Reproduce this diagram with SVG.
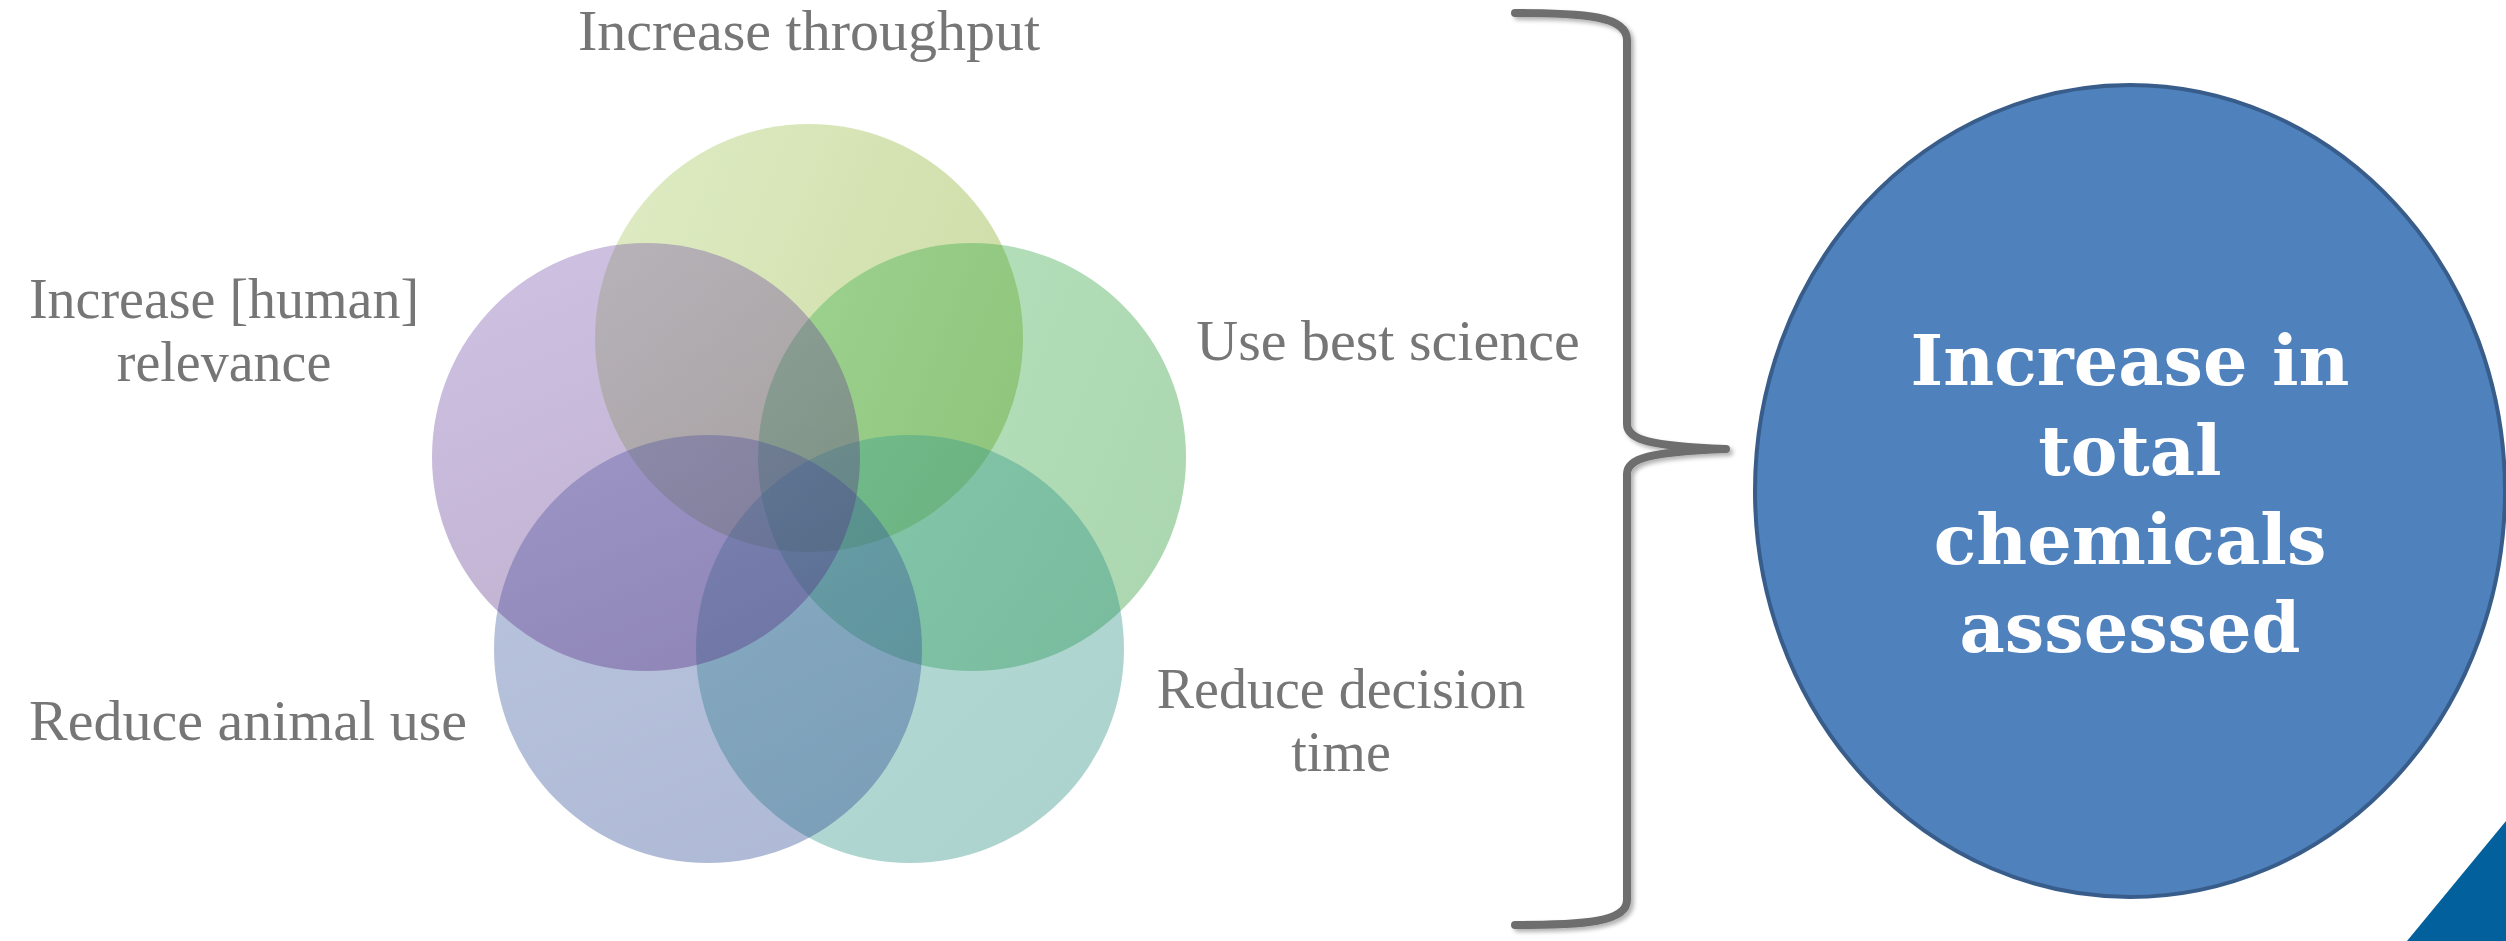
<svg xmlns="http://www.w3.org/2000/svg" width="2506" height="941" viewBox="0 0 2506 941">
<style>
.lbl{font-family:"Liberation Serif","Times New Roman",serif;font-size:58px;fill:#767676;text-anchor:middle}
.lbl2{font-size:56px}
.big{font-family:"DejaVu Serif","Liberation Serif",serif;font-weight:bold;font-size:70px;fill:#ffffff;text-anchor:middle}
.venn{fill-opacity:0.36}
</style>
<defs>
<linearGradient id="gTop" x1="0" y1="0.3" x2="1" y2="0.7"><stop offset="0" stop-color="#a3c758"/><stop offset="1" stop-color="#749e05"/></linearGradient>
<linearGradient id="gLeft" x1="0.3" y1="0" x2="0.7" y2="1"><stop offset="0" stop-color="#7450a9"/><stop offset="1" stop-color="#50247c"/></linearGradient>
<linearGradient id="gRight" x1="0" y1="0.3" x2="1" y2="0.7"><stop offset="0" stop-color="#34ae4a"/><stop offset="1" stop-color="#189024"/></linearGradient>
<linearGradient id="gBL" x1="0.3" y1="0" x2="0.7" y2="1"><stop offset="0" stop-color="#3d5ba3"/><stop offset="1" stop-color="#213f8d"/></linearGradient>
<linearGradient id="gBR" x1="0" y1="0" x2="1" y2="1"><stop offset="0" stop-color="#349e93"/><stop offset="1" stop-color="#188274"/></linearGradient>
<filter id="sh" x="-20%" y="-5%" width="140%" height="110%"><feDropShadow dx="3" dy="3" stdDeviation="2" flood-color="#000" flood-opacity="0.3"/></filter>
</defs>
<rect width="2506" height="941" fill="#ffffff"/>
<g id="venn">
<g id="node-throughput"><circle class="venn" cx="809" cy="338" r="214" fill="url(#gTop)"/></g>
<g id="node-science"><circle class="venn" cx="972" cy="457" r="214" fill="url(#gRight)"/></g>
<g id="node-decision"><circle class="venn" cx="910" cy="649" r="214" fill="url(#gBR)"/></g>
<g id="node-animal"><circle class="venn" cx="708" cy="649" r="214" fill="url(#gBL)"/></g>
<g id="node-relevance"><circle class="venn" cx="646" cy="457" r="214" fill="url(#gLeft)"/></g>
</g>
<g id="labels">
<text class="lbl" x="809" y="50">Increase throughput</text>
<text class="lbl lbl2" x="224" y="318">Increase [human]</text>
<text class="lbl lbl2" x="224" y="381">relevance</text>
<text class="lbl" x="1388" y="360">Use best science</text>
<text class="lbl" x="248" y="740">Reduce animal use</text>
<text class="lbl lbl2" x="1341" y="708">Reduce decision</text>
<text class="lbl lbl2" x="1341" y="771">time</text>
</g>
<g id="connectors">
<path d="M1515,13 C1585,13 1627,16 1627,40 L1627,424 C1627,440 1650,446 1726,449 C1650,452 1627,458 1627,474 L1627,900 C1627,922 1585,925 1515,925" fill="none" stroke="#6e6e6e" stroke-width="8" stroke-linecap="round" stroke-linejoin="round" filter="url(#sh)"/>
</g>
<g id="node-result">
<ellipse cx="2130" cy="491" rx="375" ry="406" fill="#4f81bd" stroke="#385d8a" stroke-width="4"/>
<text class="big" x="2130" y="385">Increase in<tspan x="2130" dy="90">total</tspan><tspan x="2130" dy="89">chemicals</tspan><tspan x="2130" dy="88">assessed</tspan></text>
</g>
<g id="corner"><polygon points="2407,941 2506,821 2506,941" fill="#02609c"/></g>
</svg>
